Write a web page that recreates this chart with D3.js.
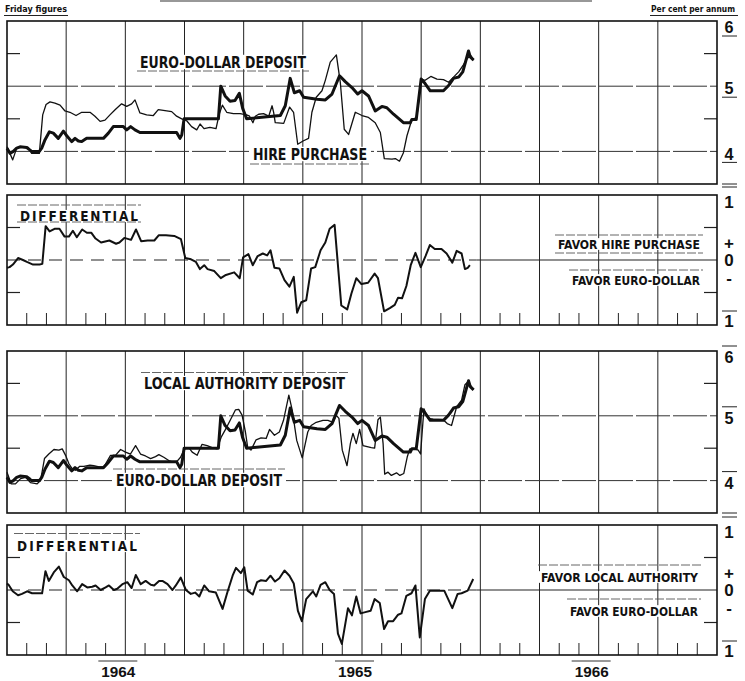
<!DOCTYPE html>
<html>
<head>
<meta charset="utf-8">
<script src="https://cdn.jsdelivr.net/npm/d3@7"></script>
<style>
  body { margin: 0; background: #fff; }
  svg { display: block; }
  text { font-family: "Liberation Sans Narrow", "DejaVu Sans Condensed", "Arial Narrow", sans-serif; fill: #111; }
  text.digits { font-family: "Liberation Sans", Arimo, sans-serif; }
</style>
</head>
<body>
<div id="wrapper"></div>
<script>
// [months after 1 Jan 1964, per cent per annum] - Friday figures
const euroDollar = [
  [0, 4.05], [0.15, 3.97], [0.32, 4.0], [0.49, 4.05], [0.66, 4.07], [1.0, 4.06], [1.17, 4.02], [1.25, 4.0],
  [1.64, 4.0], [1.76, 4.05], [1.93, 4.18], [2.15, 4.3], [2.35, 4.28], [2.6, 4.2], [2.86, 4.31], [3.03, 4.24],
  [3.28, 4.15], [3.45, 4.2], [3.62, 4.16], [3.79, 4.15], [4.04, 4.2], [4.89, 4.2], [5.14, 4.28], [5.39, 4.38],
  [5.9, 4.38], [6.07, 4.33], [6.27, 4.38], [6.49, 4.33], [6.74, 4.29], [8.6, 4.29], [8.77, 4.2], [8.86, 4.25],
  [8.98, 4.5], [10.72, 4.5], [10.84, 5.0], [11.06, 4.85], [11.31, 4.77], [11.56, 4.78], [11.78, 4.89],
  [11.95, 4.66], [12.15, 4.5], [13.86, 4.55], [14.11, 4.7], [14.36, 5.12], [14.57, 4.9], [14.84, 4.93],
  [15.04, 4.83], [15.72, 4.8], [16.14, 4.79], [16.48, 4.88], [16.86, 5.16], [17.15, 5.07], [17.49, 4.98],
  [17.78, 4.88], [18.0, 4.93], [18.33, 4.85], [18.67, 4.62], [19.01, 4.69], [19.26, 4.67], [19.6, 4.57],
  [20.1, 4.44], [20.45, 4.44], [20.53, 4.49], [20.75, 4.49], [21.0, 5.11], [21.2, 5.04], [21.46, 4.93],
  [22.13, 4.93], [22.39, 5.01], [22.64, 5.12], [22.9, 5.14], [23.11, 5.22], [23.4, 5.54], [23.49, 5.45], [23.66, 5.4]
]
const hirePurchase = [
  [0, 4.07], [0.29, 3.87], [0.49, 4.05], [0.83, 4.07], [1.08, 4.06], [1.25, 3.97], [1.64, 3.97], [1.81, 4.56],
  [1.98, 4.72], [2.18, 4.76], [2.43, 4.74], [2.69, 4.71], [2.94, 4.62], [3.19, 4.6], [3.5, 4.55], [3.79, 4.6],
  [4.21, 4.6], [4.46, 4.54], [4.72, 4.46], [4.97, 4.48], [5.22, 4.56], [5.48, 4.64], [5.81, 4.73], [6.07, 4.69],
  [6.32, 4.73], [6.49, 4.79], [6.74, 4.59], [7.08, 4.56], [7.42, 4.55], [7.67, 4.64], [8.1, 4.62], [8.35, 4.61],
  [8.6, 4.54], [8.86, 4.5], [9.11, 4.47], [9.36, 4.38], [9.62, 4.33], [9.79, 4.42], [9.99, 4.35], [10.29, 4.37],
  [10.6, 4.35], [10.75, 4.56], [10.92, 4.71], [11.14, 4.6], [11.48, 4.58], [11.82, 4.58], [12.15, 4.56],
  [12.3, 4.54], [12.47, 4.44], [12.59, 4.54], [12.76, 4.57], [13.01, 4.58], [13.27, 4.54], [13.44, 4.7],
  [13.52, 4.6], [13.6, 4.44], [14.03, 4.43], [14.33, 4.68], [14.53, 4.6], [14.74, 4.11], [15.01, 4.16],
  [15.29, 4.2], [15.46, 4.6], [15.68, 4.83], [15.97, 4.93], [16.14, 5.09], [16.39, 5.37], [16.7, 5.48],
  [16.9, 5.06], [17.1, 4.34], [17.32, 4.26], [17.66, 4.6], [18.0, 4.55], [18.33, 4.52], [18.67, 4.44],
  [18.93, 4.29], [19.13, 3.89], [19.52, 3.88], [19.69, 3.89], [19.9, 3.85], [20.1, 3.98], [20.28, 4.24],
  [20.53, 4.49], [20.78, 4.52], [21.0, 5.11], [21.2, 5.09], [21.49, 5.15], [21.8, 5.11], [22.13, 5.1],
  [22.39, 5.06], [22.64, 5.14], [22.9, 5.22], [23.15, 5.33], [23.32, 5.42], [23.52, 5.47], [23.66, 5.4]
]
const hireDifferential = [
  [0.0, -0.12], [0.13, -0.11], [0.3, -0.07], [0.56, 0.03], [0.81, 0.0], [1.01, -0.03], [1.32, -0.07], [1.65, -0.07],
  [1.79, -0.06], [1.96, 0.52], [2.16, 0.44], [2.41, 0.48], [2.66, 0.48], [2.92, 0.36], [3.14, 0.36], [3.34, 0.45],
  [3.54, 0.35], [3.81, 0.47], [4.05, 0.42], [4.27, 0.42], [4.49, 0.33], [4.77, 0.27], [5.19, 0.3], [5.53, 0.25],
  [5.7, 0.27], [5.95, 0.34], [6.29, 0.31], [6.54, 0.47], [6.8, 0.29], [7.13, 0.3], [7.47, 0.3], [7.69, 0.38],
  [8.06, 0.38], [8.48, 0.37], [8.82, 0.32], [9.04, 0.03], [9.33, 0.01], [9.58, -0.03], [9.78, -0.14], [10.0, -0.08],
  [10.17, -0.14], [10.51, -0.17], [10.84, -0.28], [11.1, -0.23], [11.52, -0.19], [11.8, -0.28], [11.97, 0.04],
  [12.24, 0.09], [12.46, -0.08], [12.71, 0.06], [12.97, 0.1], [13.19, 0.07], [13.36, 0.15], [13.56, -0.12],
  [13.81, -0.13], [14.07, -0.31], [14.32, -0.41], [14.54, -0.26], [14.71, -0.81], [14.92, -0.65], [15.17, -0.62],
  [15.42, -0.13], [15.63, -0.11], [15.9, 0.15], [16.14, 0.27], [16.36, 0.48], [16.61, 0.54], [16.95, -0.7],
  [17.25, -0.76], [17.46, -0.52], [17.71, -0.28], [17.97, -0.37], [18.31, -0.35], [18.64, -0.21], [18.81, -0.28],
  [19.12, -0.79], [19.41, -0.74], [19.66, -0.69], [19.83, -0.58], [20.03, -0.59], [20.25, -0.4], [20.47, -0.08],
  [20.71, 0.11], [20.98, -0.11], [21.22, 0.06], [21.44, 0.23], [21.69, 0.17], [22.03, 0.17], [22.29, 0.1],
  [22.58, -0.04], [22.8, 0.14], [23.05, 0.1], [23.22, -0.14], [23.36, -0.12], [23.47, -0.08]
]
const localAuthority = [
  [0.0, 4.13], [0.21, 3.95], [0.43, 3.95], [0.69, 4.03], [0.94, 4.05], [1.19, 3.97], [1.53, 3.95], [1.7, 4.0],
  [1.9, 4.34], [2.12, 4.41], [2.38, 4.48], [2.63, 4.47], [2.8, 4.49], [2.97, 4.39], [3.14, 4.26], [3.31, 4.18],
  [3.47, 4.16], [3.69, 4.22], [3.9, 4.22], [4.2, 4.24], [4.4, 4.23], [4.66, 4.21], [4.91, 4.21], [5.25, 4.39],
  [5.5, 4.39], [5.76, 4.48], [6.01, 4.44], [6.26, 4.41], [6.52, 4.54], [6.77, 4.41], [7.02, 4.38], [7.28, 4.34],
  [7.53, 4.37], [7.7, 4.4], [7.95, 4.36], [8.2, 4.31], [8.46, 4.28], [8.63, 4.3], [8.8, 4.36], [9.0, 4.49],
  [9.22, 4.51], [9.39, 4.44], [9.64, 4.39], [9.89, 4.56], [10.15, 4.54], [10.4, 4.51], [10.65, 4.49], [10.86, 4.67],
  [11.08, 4.79], [11.33, 4.94], [11.58, 5.09], [11.75, 5.1], [11.92, 5.01], [12.09, 4.75], [12.2, 4.52],
  [12.37, 4.47], [12.63, 4.63], [12.88, 4.66], [13.14, 4.65], [13.31, 4.79], [13.56, 4.7], [13.81, 4.75],
  [14.02, 4.93], [14.29, 5.32], [14.46, 5.09], [14.69, 4.62], [14.97, 4.35], [15.25, 4.75], [15.42, 4.85],
  [15.68, 4.9], [16.02, 4.93], [16.27, 4.93], [16.53, 4.9], [16.69, 5.01], [16.83, 4.96], [17.0, 4.47],
  [17.24, 4.23], [17.41, 4.57], [17.54, 4.73], [17.71, 4.57], [17.88, 4.79], [18.05, 4.54], [18.47, 4.51],
  [18.64, 4.5], [18.81, 4.94], [18.93, 4.98], [19.07, 4.57], [19.15, 4.1], [19.32, 4.13], [19.49, 4.08],
  [19.75, 4.12], [19.92, 4.08], [20.12, 4.11], [20.29, 4.36], [20.42, 4.49], [20.68, 4.49], [20.85, 4.47],
  [20.97, 4.41], [21.14, 5.11], [21.36, 4.96], [21.61, 4.95], [22.12, 4.94], [22.32, 4.88], [22.54, 4.85],
  [22.8, 5.14], [23.05, 5.24], [23.22, 5.48], [23.39, 5.53], [23.64, 5.4]
]
const localDifferential = [
  [0.0, 0.1], [0.08, 0.08], [0.29, -0.02], [0.56, -0.08], [0.76, -0.06], [1.02, -0.02], [1.27, -0.05], [1.61, -0.05],
  [1.78, -0.05], [1.95, 0.29], [2.12, 0.14], [2.37, 0.27], [2.63, 0.36], [2.88, 0.2], [3.14, 0.15], [3.31, 0.07],
  [3.56, -0.02], [3.81, 0.09], [4.07, 0.04], [4.32, 0.05], [4.49, 0.07], [4.75, 0.0], [5.0, 0.04], [5.17, 0.07],
  [5.42, 0.0], [5.59, 0.02], [5.85, 0.09], [6.1, 0.12], [6.32, 0.03], [6.53, 0.23], [6.78, 0.09], [7.03, 0.14],
  [7.29, 0.08], [7.46, 0.07], [7.71, 0.14], [7.88, 0.14], [8.14, 0.09], [8.39, 0.0], [8.56, 0.07], [8.81, 0.19],
  [9.07, 0.0], [9.32, -0.06], [9.54, -0.04], [9.75, -0.1], [10.0, 0.07], [10.25, -0.02], [10.59, -0.04],
  [10.93, -0.29], [11.19, -0.02], [11.44, 0.22], [11.61, 0.34], [11.86, 0.26], [12.03, 0.35], [12.2, -0.01],
  [12.46, -0.07], [12.68, 0.12], [12.88, 0.15], [13.14, 0.14], [13.36, 0.22], [13.59, 0.13], [13.81, 0.18],
  [14.07, 0.3], [14.32, 0.22], [14.54, 0.1], [14.75, -0.32], [14.95, -0.48], [15.17, -0.14], [15.51, -0.02],
  [15.68, -0.1], [15.9, 0.08], [16.14, 0.12], [16.36, 0.0], [16.58, -0.06], [16.78, -0.67], [16.98, -0.83],
  [17.29, -0.28], [17.49, -0.39], [17.71, -0.1], [17.93, -0.36], [18.17, -0.34], [18.44, -0.32], [18.64, -0.14],
  [18.9, -0.2], [19.12, -0.6], [19.32, -0.48], [19.58, -0.48], [19.83, -0.38], [20.0, -0.36], [20.25, -0.09],
  [20.51, -0.05], [20.71, 0.07], [20.93, -0.73], [21.19, -0.14], [21.44, -0.01], [22.17, -0.01], [22.58, -0.28],
  [22.85, -0.06], [23.05, -0.05], [23.36, -0.01], [23.64, 0.17]
]

const yearLabels = ["1964", "1965", "1966"]
const rateLabels = ["4", "5", "6"]
const differentialLabels = ["1", "+", "0", "-", "1"]

drawChart()

function drawChart() {
    const dimensions = {width: 745, height: 681, left: 7, right: 717}
    const svg = d3.select("#wrapper").append("svg")
        .attr("width", dimensions.width)
        .attr("height", dimensions.height)
    const xScale = d3.scaleLinear().domain([0, 36]).range([dimensions.left, dimensions.right])

    drawHeader(svg)

    const ratePanel1 = {top: 21, bottom: 184}
    const diffPanel1 = {top: 195, bottom: 325}
    const ratePanel2 = {top: 351, bottom: 513}
    const diffPanel2 = {top: 525, bottom: 655}

    const y1 = drawRatePanel(svg, xScale, ratePanel1, "under")
    drawLabel(svg, "EURO-DOLLAR DEPOSIT", 140, 306, 62, 16, {under: 71})
    drawLabel(svg, "HIRE PURCHASE", 253, 367, 154, 16, {under: 164})
    drawSeries(svg, hirePurchase, xScale, y1, 1.3)
    drawSeries(svg, euroDollar, xScale, y1, 3)

    const y2 = drawDiffPanel(svg, xScale, diffPanel1)
    drawLabel(svg, "DIFFERENTIAL", 20, 138, 216, 13.5, {over: 205, under: 222, weight: 600, spacing: true})
    drawLabel(svg, "FAVOR HIRE PURCHASE", 558, 700, 244, 13, {over: 235, under: 253})
    drawLabel(svg, "FAVOR EURO-DOLLAR", 572, 700, 280, 13, {over: 270})
    drawSeries(svg, hireDifferential, xScale, y2, 2)

    const y3 = drawRatePanel(svg, xScale, ratePanel2, "over")
    drawLabel(svg, "LOCAL AUTHORITY DEPOSIT", 144, 345, 383, 16, {over: 372.5})
    drawLabel(svg, "EURO-DOLLAR DEPOSIT", 116, 282, 480, 16, {over: 469})
    drawSeries(svg, localAuthority, xScale, y3, 1.3)
    drawSeries(svg, euroDollar, xScale, y3, 3)

    const y4 = drawDiffPanel(svg, xScale, diffPanel2)
    drawLabel(svg, "DIFFERENTIAL", 17, 137, 546, 13.5, {over: 533.5, weight: 600, spacing: true})
    drawLabel(svg, "FAVOR LOCAL AUTHORITY", 541, 698, 577, 13, {over: 565})
    drawLabel(svg, "FAVOR EURO-DOLLAR", 570, 698, 611, 13, {over: 599})
    drawSeries(svg, localDifferential, xScale, y4, 2)

    drawYears(svg, xScale)
}

function drawHeader(svg) {
    svg.append("text").attr("x", 5).attr("y", 12)
        .attr("textLength", 62).attr("lengthAdjust", "spacingAndGlyphs")
        .style("font-size", "9px").style("font-weight", "bold")
        .text("Friday figures")
    svg.append("line").attr("x1", 4).attr("x2", 68).attr("y1", 15.5).attr("y2", 15.5)
        .attr("stroke", "#222").attr("stroke-width", 1)
    svg.append("text").attr("x", 651).attr("y", 12)
        .attr("textLength", 84).attr("lengthAdjust", "spacingAndGlyphs")
        .style("font-size", "8.5px").style("font-weight", "bold")
        .text("Per cent per annum")
    svg.append("line").attr("x1", 650).attr("x2", 738).attr("y1", 15.5).attr("y2", 15.5)
        .attr("stroke", "#222").attr("stroke-width", 1)
    svg.append("line").attr("x1", 160).attr("x2", 592).attr("y1", 1).attr("y2", 1)
        .attr("stroke", "#333").attr("stroke-width", 1.2)
}

function drawFrameAndQuarters(svg, xScale, panel) {
    svg.append("rect")
        .attr("x", xScale(0)).attr("y", panel.top)
        .attr("width", xScale(36) - xScale(0)).attr("height", panel.bottom - panel.top)
        .attr("fill", "#fff")
    svg.append("g").selectAll("line")
        .data(d3.range(3, 36, 3))
        .join("line")
        .attr("x1", d => xScale(d)).attr("x2", d => xScale(d))
        .attr("y1", panel.top).attr("y2", panel.bottom)
        .attr("stroke", "#222").attr("stroke-width", 1)
}

function drawFrame(svg, xScale, panel) {
    svg.append("rect")
        .attr("x", xScale(0)).attr("y", panel.top)
        .attr("width", xScale(36) - xScale(0)).attr("height", panel.bottom - panel.top)
        .attr("fill", "none").attr("stroke", "#111").attr("stroke-width", 1.6)
}

function edgeTicks(svg, xScale, y) {
    svg.append("line").attr("x1", xScale(0)).attr("x2", xScale(0) + 13).attr("y1", y).attr("y2", y)
        .attr("stroke", "#222").attr("stroke-width", 1.2)
    svg.append("line").attr("x1", xScale(36) - 13).attr("x2", xScale(36)).attr("y1", y).attr("y2", y)
        .attr("stroke", "#222").attr("stroke-width", 1.2)
}

function scaleFigure(selection, size, width) {
    selection
        .attr("class", "digits")
        .attr("text-anchor", "middle")
        .attr("dy", "0.36em")
        .style("font-size", size + "px")
        .style("font-weight", "bold")
        .attr("textLength", width)
        .attr("lengthAdjust", "spacingAndGlyphs")
}

function drawRatePanel(svg, xScale, panel, lineSide) {
    const yScale = d3.scaleLinear().domain([3.5, 6]).range([panel.bottom, panel.top])
    drawFrameAndQuarters(svg, xScale, panel)
    svg.append("g").selectAll("line")
        .data([4, 5])
        .join("line")
        .attr("x1", xScale(0)).attr("x2", xScale(36))
        .attr("y1", d => yScale(d)).attr("y2", d => yScale(d))
        .attr("stroke", "#333").attr("stroke-width", 1)
        .attr("stroke-dasharray", "34,3")
    ;[4.5, 5.5].forEach(v => edgeTicks(svg, xScale, yScale(v)))
    drawFrame(svg, xScale, panel)

    // right hand scale figures
    const labelY = d => d === "6" ? panel.top + 6 : yScale(+d) + 2
    svg.append("g").selectAll("text")
        .data(rateLabels)
        .join("text")
        .attr("x", 729).attr("y", labelY)
        .call(scaleFigure, 17, 9)
        .text(d => d)
    const markOffset = lineSide === "under" ? 9 : -11
    svg.append("g").selectAll("line")
        .data(rateLabels)
        .join("line")
        .attr("x1", 722).attr("x2", 737)
        .attr("y1", d => labelY(d) + markOffset).attr("y2", d => labelY(d) + markOffset)
        .attr("stroke", "#222").attr("stroke-width", 1)
    svg.append("line").attr("x1", 722).attr("x2", 737)
        .attr("y1", panel.bottom).attr("y2", panel.bottom)
        .attr("stroke", "#222").attr("stroke-width", 1)
    return yScale
}

function drawDiffPanel(svg, xScale, panel) {
    const yScale = d3.scaleLinear().domain([-1, 1]).range([panel.bottom, panel.top])
    drawFrameAndQuarters(svg, xScale, panel)
    const months = d3.range(1, 36).filter(m => m % 3 !== 0)
    svg.append("g").selectAll("line")
        .data(months)
        .join("line")
        .attr("x1", d => xScale(d)).attr("x2", d => xScale(d))
        .attr("y1", panel.bottom - 12).attr("y2", panel.bottom)
        .attr("stroke", "#222").attr("stroke-width", 1)
    const zero = yScale(0)
    svg.append("line")
        .attr("x1", xScale(0)).attr("x2", xScale(23.8)).attr("y1", zero).attr("y2", zero)
        .attr("stroke", "#222").attr("stroke-width", 1.1).attr("stroke-dasharray", "13,8")
    svg.append("line")
        .attr("x1", xScale(23.8)).attr("x2", xScale(36)).attr("y1", zero).attr("y2", zero)
        .attr("stroke", "#222").attr("stroke-width", 1.1)
    ;[0.5, -0.5].forEach(v => edgeTicks(svg, xScale, yScale(v)))
    drawFrame(svg, xScale, panel)

    const positions = [panel.top + 7, yScale(0.27), yScale(0), yScale(-0.27), panel.bottom - 4]
    svg.append("g").selectAll("text")
        .data(differentialLabels)
        .join("text")
        .attr("x", 729).attr("y", (d, i) => positions[i])
        .call(scaleFigure, 17, 8)
        .attr("textLength", null)
        .text(d => d)
    svg.append("line").attr("x1", 722).attr("x2", 737)
        .attr("y1", panel.top - 8).attr("y2", panel.top - 8)
        .attr("stroke", "#222").attr("stroke-width", 1)
    svg.append("line").attr("x1", 722).attr("x2", 737)
        .attr("y1", panel.bottom - 14).attr("y2", panel.bottom - 14)
        .attr("stroke", "#222").attr("stroke-width", 1)
    return yScale
}

function drawLabel(svg, text, x1, x2, y, size, opts) {
    const g = svg.append("g")
    g.append("rect")
        .attr("x", x1 - 4).attr("y", y - size * 0.45)
        .attr("width", x2 - x1 + 8).attr("height", size * 0.9)
        .attr("fill", "#fff")
    g.append("text")
        .attr("x", x1).attr("y", y).attr("dy", "0.36em")
        .attr("textLength", x2 - x1)
        .attr("lengthAdjust", opts.spacing ? "spacing" : "spacingAndGlyphs")
        .style("font-size", size + "px")
        .style("font-weight", opts.weight || "bold")
        .text(text)
    if (opts.over) {
        g.append("line").attr("x1", x1 - 3).attr("x2", x2 + 3).attr("y1", opts.over).attr("y2", opts.over)
            .attr("stroke", "#555").attr("stroke-width", 0.9).attr("stroke-dasharray", "9,2")
    }
    if (opts.under) {
        g.append("line").attr("x1", x1 - 3).attr("x2", x2 + 3).attr("y1", opts.under).attr("y2", opts.under)
            .attr("stroke", "#555").attr("stroke-width", 0.9).attr("stroke-dasharray", "9,2")
    }
}

function drawSeries(svg, data, xScale, yScale, width) {
    const lineGenerator = d3.line()
        .x(d => xScale(d[0]))
        .y(d => yScale(d[1]))
    svg.append("path")
        .attr("d", lineGenerator(data))
        .attr("fill", "none")
        .attr("stroke", "#111")
        .attr("stroke-width", width)
        .attr("stroke-linejoin", "round")
}

function drawYears(svg, xScale) {
    svg.append("g").selectAll("text")
        .data(yearLabels)
        .join("text")
        .attr("x", (d, i) => xScale(6 + i * 12) - 7).attr("y", 672)
        .call(scaleFigure, 15, 34)
        .text(d => d)
    svg.append("g").selectAll("line")
        .data(yearLabels)
        .join("line")
        .attr("x1", (d, i) => xScale(6 + i * 12) - 27).attr("x2", (d, i) => xScale(6 + i * 12) + 12)
        .attr("y1", 661).attr("y2", 661)
        .attr("stroke", "#333").attr("stroke-width", 1)
}
</script>
</body>
</html>
